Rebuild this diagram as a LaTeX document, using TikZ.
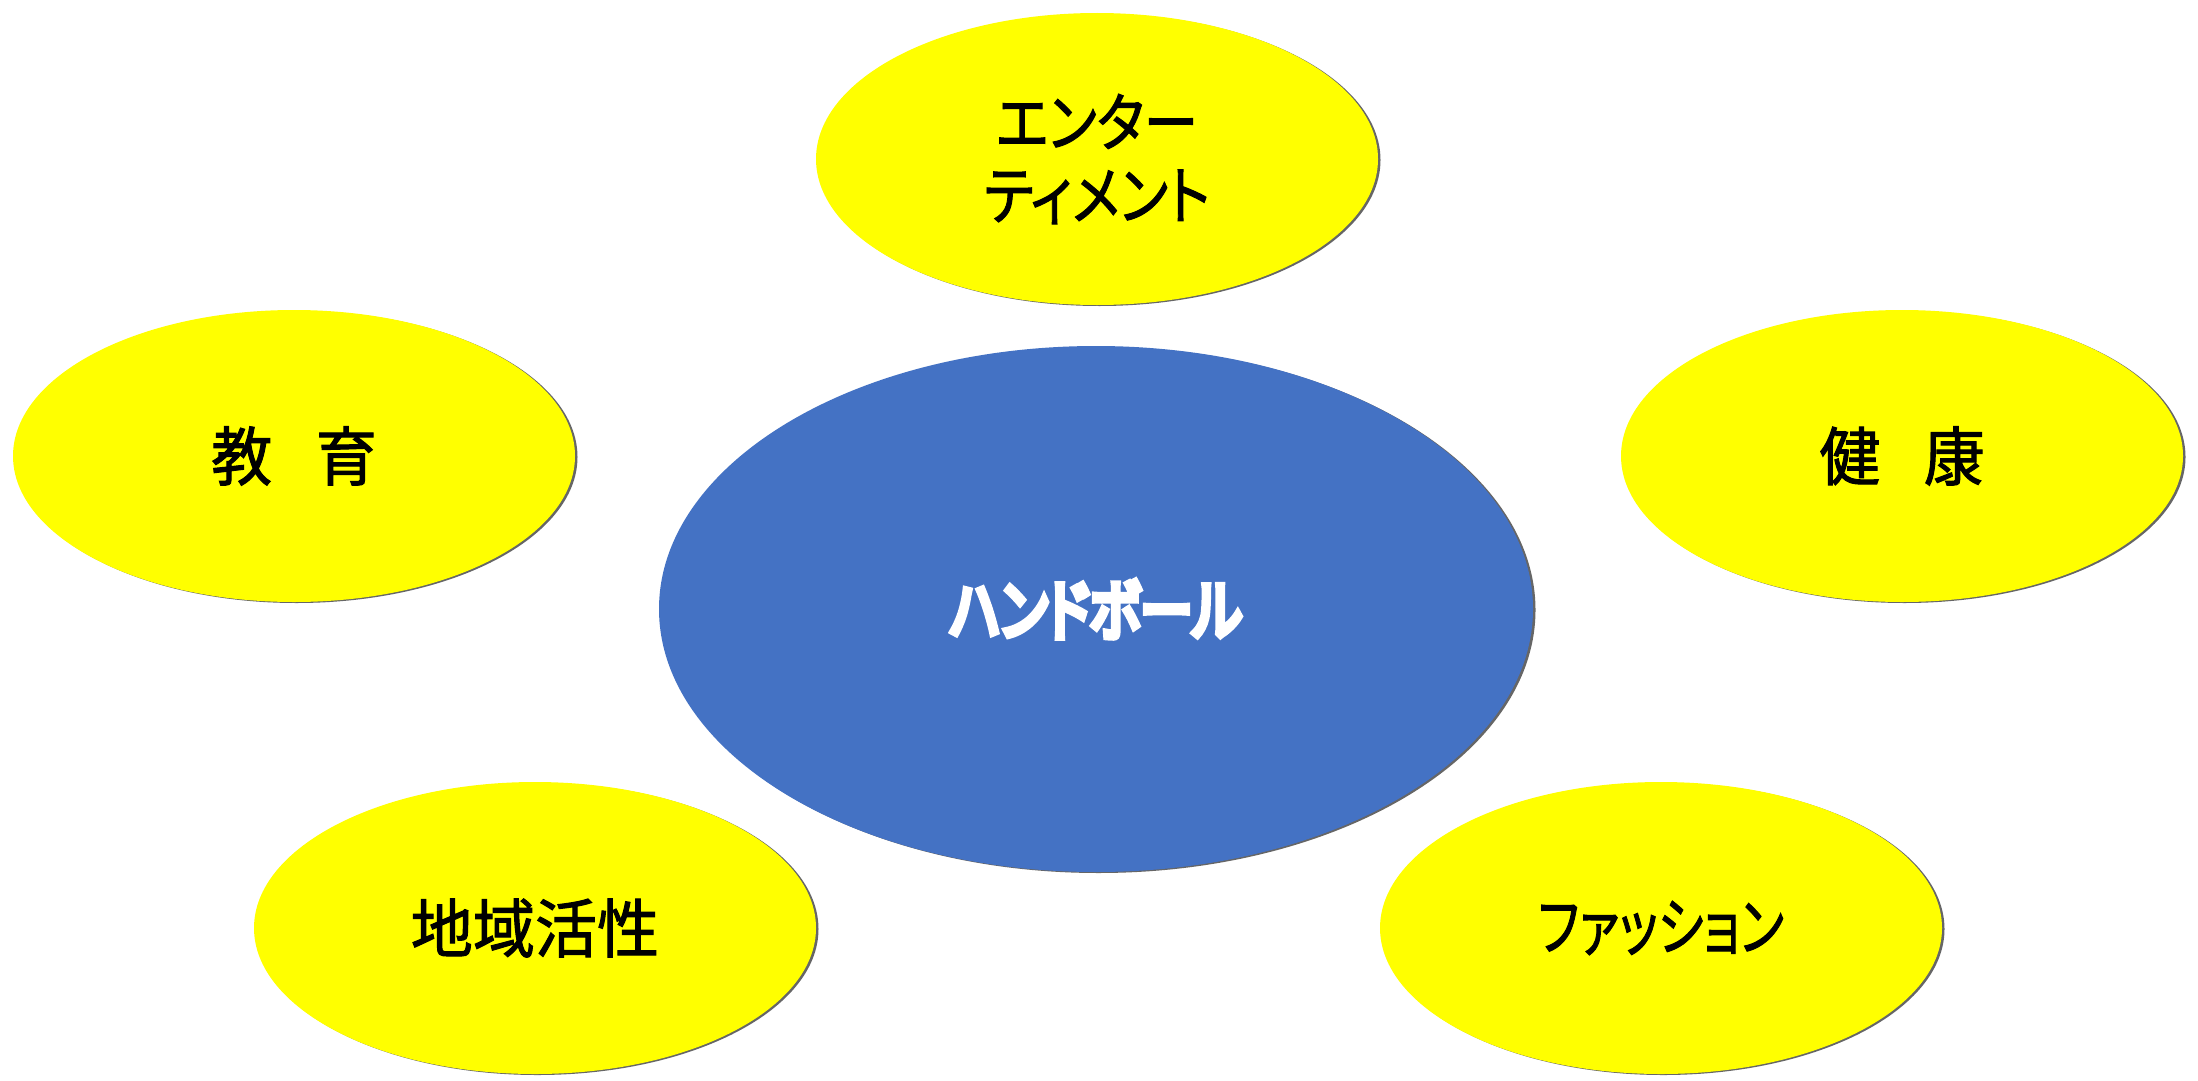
\documentclass[tikz,border=0pt]{standalone}
\usepackage{fontspec}
\setmainfont{Noto Sans CJK JP}[RawFeature={+palt}, FakeBold=1.6]
\newfontfamily\jpbold{Noto Sans CJK JP}[RawFeature={+palt}, FakeBold=10]
\usetikzlibrary{shapes.geometric}
\definecolor{bubble}{HTML}{FFFF00}
\definecolor{hub}{HTML}{4472C4}
\tikzset{
  oval/.style={ellipse, inner sep=0pt, outer sep=0pt,
    preaction={fill=black!60, transform canvas={shift={(2.5pt,-1pt)}}}},
  sat/.style={oval, fill=bubble, minimum width=562pt, minimum height=292pt,
    font=\fontsize{64}{73}\selectfont, text=black, align=center},
  core/.style={oval, fill=hub, minimum width=874pt, minimum height=526pt,
    font=\fontsize{66}{68}\jpbold, text=white, align=center}
}
\begin{document}
\begin{tikzpicture}[x=1pt,y=-1pt]
\useasboundingbox (0,0) rectangle (2198,1081);
\fill[white] (0,0) rectangle (2198,1081);
\node[sat] (ent) at (1097,159) {\scalebox{0.85}[1]{エンター}\\[0pt]\scalebox{0.85}[1]{ティメント}};
\node[sat] (edu) at (294,456) {\scalebox{0.95}[1]{教\hspace{46pt}育}};
\node[sat] (hea) at (1902,456) {\scalebox{0.95}[1]{健\hspace{46pt}康}};
\node[core] (hb) at (1096,609) {\scalebox{0.8}[1]{ハンドボール}};
\node[sat] (reg) at (535,928) {\scalebox{0.97}[1]{地域活性}};
\node[sat] (fas) at (1661,928) {\scalebox{0.77}[1]{ファッション}};
\end{tikzpicture}
\end{document}
